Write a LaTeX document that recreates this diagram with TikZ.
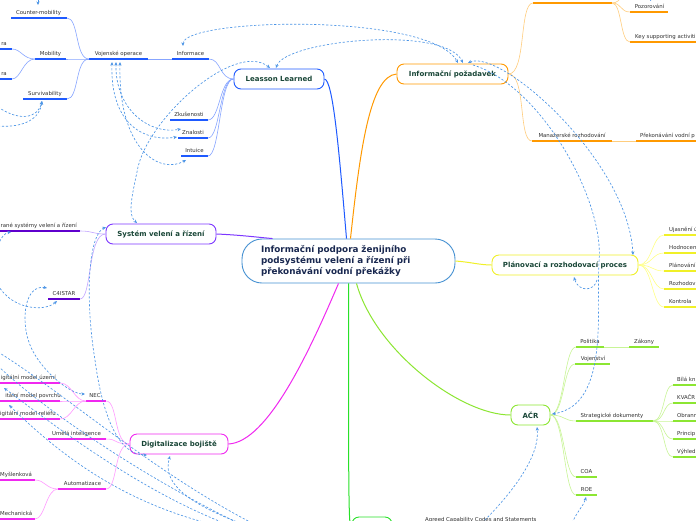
\documentclass[tikz,border=0pt]{standalone}
\usepackage{fontspec}
\setmainfont{DejaVu Sans}
\usetikzlibrary{arrows.meta}
\definecolor{relblue}{RGB}{75,148,230}
\definecolor{cblue}{RGB}{30,90,255}
\definecolor{cbluel}{RGB}{135,165,255}
\definecolor{corange}{RGB}{255,153,0}
\definecolor{corangel}{RGB}{255,205,125}
\definecolor{cpurple}{RGB}{125,55,255}
\definecolor{cpurpled}{RGB}{95,0,205}
\definecolor{cpurplel}{RGB}{195,165,255}
\definecolor{cyellow}{RGB}{240,240,40}
\definecolor{cyellowl}{RGB}{255,255,135}
\definecolor{clime}{RGB}{140,230,50}
\definecolor{climel}{RGB}{200,245,150}
\definecolor{cmag}{RGB}{240,40,240}
\definecolor{cmagl}{RGB}{255,155,255}
\definecolor{cgreen}{RGB}{40,225,40}
\definecolor{ccentral}{RGB}{70,145,210}
\definecolor{topictxt}{RGB}{25,70,55}
\definecolor{centraltxt}{RGB}{25,40,80}
\definecolor{subtxt}{RGB}{50,50,50}
\begin{document}
\begin{tikzpicture}[x=1pt,y=-1pt,
  topic/.style={draw, rounded corners=7pt, line width=0.9pt, fill=white,
    font=\fontsize{7}{8}\selectfont\bfseries, text=topictxt, inner sep=0pt, minimum height=20pt},
  subt/.style={font=\fontsize{5.4}{6}\selectfont, text=subtxt, inner sep=0pt, anchor=base},
  subw/.style={subt, anchor=base west},
  sube/.style={subt, anchor=base east},
  uline/.style={line width=1.2pt},
  conn/.style={line width=0.6pt},
  relline/.style={draw=relblue, dash pattern=on 2.2pt off 1.8pt, line width=0.65pt},
  relar/.style={relline, -{Stealth[length=3.6pt,width=3.2pt]}},
  relboth/.style={relline, {Stealth[length=3.6pt,width=3.2pt]}-{Stealth[length=3.6pt,width=3.2pt]}},
  relst/.style={relline, {Stealth[length=3.6pt,width=3.2pt]}-},
]
\useasboundingbox (0,0) rectangle (696,520);
\path[fill=white] (0,0) rectangle (696,520);

% ---------- main nodes ----------
\node[draw=ccentral, line width=0.9pt, rounded corners=20pt, fill=white,
  minimum width=213pt, minimum height=44pt, inner sep=0pt, text width=175pt, align=left,
  font=\fontsize{8.8}{11.3}\selectfont\bfseries, text=centraltxt] (c) at (348.5,261)
  {Informační podpora ženijního\\podsystému velení a řízení při\\překonávání vodní překážky};
\node[topic, draw=cblue, minimum width=90pt] (ll) at (279,79) {Leasson Learned};
\node[topic, draw=corange, minimum width=111pt] (ip) at (452.5,74) {Informační požadavek};
\node[topic, draw=cpurple, minimum width=110pt] (sv) at (161,234) {Systém velení a řízení};
\node[topic, draw=cyellow, minimum width=146pt] (pr) at (565,265) {Plánovací a rozhodovací proces};
\node[topic, draw=clime, minimum width=39pt] (ac) at (530.5,415) {AČR};
\node[topic, draw=cmag, minimum width=98pt] (dg) at (179,444) {Digitalizace bojiště};
\node[topic, draw=cgreen, minimum width=40pt, minimum height=24pt] (bot) at (372,529) {};

% ---------- central connectors ----------
\draw[cblue, line width=1pt] (ll.east) .. controls (333,80) and (339,150) .. ([xshift=-2pt]c.north);
\draw[corange, line width=1pt] ([xshift=2pt]c.north) .. controls (360,150) and (370,76) .. (ip.west);
\draw[cpurple, line width=1pt] (sv.east) .. controls (240,235) and (255,237) .. ([xshift=-76pt]c.north);
\draw[cyellow, line width=1pt] (c.east) .. controls (470,262) and (480,265) .. (pr.west);
\draw[clime, line width=1pt] ([xshift=8pt]c.south) .. controls (375,350) and (460,415) .. (ac.west);
\draw[cmag, line width=1pt] ([xshift=-10pt]c.south) .. controls (310,350) and (268,442) .. (dg.east);
\draw[cgreen, line width=1pt] (c.south) .. controls (348.5,500) and (348.5,528) .. (bot.west);

% ---------- Leasson Learned branch ----------
\coordinate (infoA) at (172,59); \coordinate (infoB) at (209,59);
\coordinate (vojA) at (89,59);   \coordinate (vojB) at (148,59);
\coordinate (cmA) at (11,18);    \coordinate (cmB) at (67,18);
\coordinate (mobA) at (35,59);   \coordinate (mobB) at (66,59);
\coordinate (survA) at (23,99);  \coordinate (survB) at (67,99);
\coordinate (ra1A) at (-1,49);   \coordinate (ra1B) at (12,49);
\coordinate (ra2A) at (-1,79);   \coordinate (ra2B) at (12,79);
\coordinate (zkA) at (170,120);  \coordinate (zkB) at (208,120);
\coordinate (znA) at (178,138);  \coordinate (znB) at (208,138);
\coordinate (inA) at (181,156);  \coordinate (inB) at (208,156);
\foreach \a/\b in {infoA/infoB,vojA/vojB,cmA/cmB,mobA/mobB,survA/survB,ra1A/ra1B,ra2A/ra2B,zkA/zkB,znA/znB,inA/inB}
  \draw[uline, cblue] (\a) -- (\b);
\node[subt] (info) at (190.5,55.5) {Informace};
\node[subt] (voj) at (118.5,55.5) {Vojenské operace};
\node[subt] (cm) at (38.5,14.5) {Counter-mobility};
\node[subt] (mob) at (50.5,55.5) {Mobility};
\node[subt] (surv) at (45,95.5) {Survivability};
\node[sube] (ra1) at (7,45.5) {ra};
\node[sube] (ra2) at (7,75.5) {ra};
\node[subt] (zk) at (189,116.5) {Zkušenosti};
\node[subt] (zn) at (193,134.5) {Znalosti};
\node[subt] (in) at (194.5,152.5) {Intuice};
\foreach \t in {infoB,zkB,znB,inB}
  \draw[conn, cbluel] (ll.west) .. controls +(-14,0) and +(12,0) .. (\t);
\draw[conn, cbluel] (infoA) -- (vojB);
\foreach \t in {cmB,mobB,survB}
  \draw[conn, cbluel] (vojA) .. controls +(-14,0) and +(12,0) .. (\t);
\foreach \t in {ra1B,ra2B}
  \draw[conn, cbluel] (mobA) .. controls +(-12,0) and +(9,0) .. (\t);

% ---------- Systém velení a řízení branch ----------
\coordinate (raneA) at (-1,231); \coordinate (raneB) at (80,231);
\coordinate (c4A) at (48,299);   \coordinate (c4B) at (80,299);
\draw[uline, cpurpled] (raneA) -- (raneB);
\draw[uline, cpurpled] (c4A) -- (c4B);
\node[sube] (rane) at (77,227.5) {rané systémy velení a řízení};
\node[subt] (c4) at (64,295.5) {C4ISTAR};
\draw[conn, cpurplel] (sv.west) .. controls +(-14,0) and +(14,0) .. (raneB);
\draw[conn, cpurplel] (sv.west) .. controls +(-18,0) and +(12,0) .. (c4B);

% ---------- Digitalizace bojiště branch ----------
\coordinate (necA) at (86,401);  \coordinate (necB) at (106,401);
\coordinate (uiA) at (48,439);   \coordinate (uiB) at (106,439);
\coordinate (autA) at (58,489);  \coordinate (autB) at (106,489);
\coordinate (dmuA) at (-1,383);  \coordinate (dmuB) at (60,383);
\coordinate (dmpA) at (-1,401);  \coordinate (dmpB) at (60,401);
\coordinate (dmrA) at (-1,419);  \coordinate (dmrB) at (60,419);
\coordinate (mysA) at (-1,480);  \coordinate (mysB) at (35,480);
\coordinate (mechA) at (-1,519); \coordinate (mechB) at (35,519);
\foreach \a/\b in {necA/necB,uiA/uiB,autA/autB,dmuA/dmuB,dmpA/dmpB,dmrA/dmrB,mysA/mysB,mechA/mechB}
  \draw[uline, cmag] (\a) -- (\b);
\node[subt] (nec) at (95,397.5) {NEC};
\node[subt] (ui) at (76.5,435.5) {Umělá inteligence};
\node[subt] (aut) at (82.5,485.5) {Automatizace};
\node[sube] (dmu) at (56,379.5) {igitální model území};
\node[sube] (dmp) at (61,397.5) {itální model povrchu};
\node[sube] (dmr) at (56,415.5) {igitální model reliéfu};
\node[subw] (mys) at (0,476.5) {Myšlenková};
\node[subw] (mech) at (0,515.5) {Mechanická};
\foreach \t in {necB,uiB,autB}
  \draw[conn, cmagl] (dg.west) .. controls +(-16,0) and +(12,0) .. (\t);
\foreach \t in {dmuB,dmpB,dmrB}
  \draw[conn, cmagl] (necA) .. controls +(-12,0) and +(12,0) .. (\t);
\foreach \t in {mysB,mechB}
  \draw[conn, cmagl] (autA) .. controls +(-12,0) and +(10,0) .. (\t);

% ---------- Informační požadavek branch ----------
\coordinate (topA) at (533,3);   \coordinate (topB) at (612,3);
\coordinate (pozA) at (630,12);  \coordinate (pozB) at (668,12);
\coordinate (keyA) at (630,42);  \coordinate (keyB) at (697,42);
\coordinate (manA) at (532,141); \coordinate (manB) at (612,141);
\coordinate (prekA) at (636,141);\coordinate (prekB) at (697,141);
\coordinate (topUp) at (632,-10);
\foreach \a/\b in {topA/topB,pozA/pozB,keyA/keyB,manA/manB,prekA/prekB}
  \draw[uline, corange] (\a) -- (\b);
\node[subt] (poz) at (649.5,8.5) {Pozorování};
\node[subw] (key) at (635,38.5) {Key supporting activiti};
\node[subt] (man) at (572,137.5) {Manažerské rozhodování};
\node[subw] (prek) at (640,137.5) {Překonávání vodní p};
\foreach \t in {topA,manA}
  \draw[conn, corangel] (ip.east) .. controls +(18,0) and +(-14,0) .. (\t);
\foreach \t in {pozA,keyA,topUp}
  \draw[conn, corangel] (topB) .. controls +(10,0) and +(-10,0) .. (\t);
\draw[conn, corangel] (manB) -- (prekA);

% ---------- Plánovací a rozhodovací proces branch ----------
\foreach \n/\y/\t in {p1/235/{Ujasnění ú},p2/253/{Hodnocen},p3/271/{Plánování},p4/289/{Rozhodov},p5/307/{Kontrola}}{
  \coordinate (\n A) at (664,\y); \coordinate (\n B) at (697,\y);
  \draw[uline, cyellow] (\n A) -- (\n B);
  \node[subw] (\n) at (669,\y-3.5) {\t};
  \draw[conn, cyellowl] (pr.east) .. controls +(14,0) and +(-12,0) .. (\n A);
}

% ---------- AČR branch ----------
\coordinate (polA) at (576,347);  \coordinate (polB) at (604,347);
\coordinate (zakA) at (629,347);  \coordinate (zakB) at (659,347);
\coordinate (vjA) at (575,364);   \coordinate (vjB) at (610,364);
\coordinate (strA) at (576,421);  \coordinate (strB) at (653,421);
\coordinate (coaA) at (576,477);  \coordinate (coaB) at (597,477);
\coordinate (roeA) at (576,495);  \coordinate (roeB) at (597,495);
\foreach \a/\b in {polA/polB,zakA/zakB,vjA/vjB,strA/strB,coaA/coaB,roeA/roeB}
  \draw[uline, clime] (\a) -- (\b);
\node[subt] (pol) at (590,343.5) {Politika};
\node[subt] (zak) at (644,343.5) {Zákony};
\node[subt] (vj) at (593,360.5) {Vojenství};
\node[subt] (str) at (612,417.5) {Strategické dokumenty};
\node[subt] (coa) at (586.5,473.5) {COA};
\node[subt] (roe) at (586.5,491.5) {ROE};
\foreach \t in {polA,vjA,strA,coaA,roeA}
  \draw[conn, climel] (ac.east) .. controls +(14,0) and +(-12,0) .. (\t);
\draw[conn, climel] (polB) -- (zakA);
\foreach \n/\y/\t in {s1/385/{Bílá kn},s2/403/{KVAČR},s3/421/{Obrann},s4/439/{Princip},s5/457/{Výhled}}{
  \coordinate (\n A) at (673,\y); \coordinate (\n B) at (697,\y);
  \draw[uline, clime] (\n A) -- (\n B);
  \node[subw] (\n) at (677,\y-3.5) {\t};
  \draw[conn, climel] (strB) .. controls +(12,0) and +(-10,0) .. (\n A);
}

% ---------- bottom node ----------
\node[subw] (agr) at (425,521.5) {Agreed Capability Codes and Statements};

% ---------- relationships (dashed) ----------
\coordinate (infoT) at (183,46);  \coordinate (ipT1) at (458,63);
\coordinate (llT2) at (276,68);   \coordinate (ipT2) at (463,63);
\coordinate (ipT3) at (468,63);   \coordinate (prT1) at (633,255);
\coordinate (ipT4) at (473,65);   \coordinate (prM) at (599,262);
\coordinate (acE) at (552,414);   \coordinate (prM2) at (597,280);
\coordinate (prB) at (574,277);
\coordinate (b1) at (482,523);    \coordinate (acB) at (537,427);
\coordinate (b2) at (572,523);    \coordinate (roeP) at (586,497);
\coordinate (vojP1) at (112,62);  \coordinate (znP) at (177,137);
\coordinate (vojP2) at (116,62);  \coordinate (zkP) at (181,129);
\coordinate (vojP3) at (120,62);  \coordinate (inP) at (186,160);
\coordinate (llT1) at (270,68);   \coordinate (svT) at (137,223);
\coordinate (oL1) at (-2,107);    \coordinate (oL2) at (-2,126);
\coordinate (survP) at (42,101);
\coordinate (oL3) at (-2,245);    \coordinate (raneP) at (11,232);
\coordinate (oL4) at (-2,285);    \coordinate (c4P) at (57,301);
\coordinate (c4Q) at (47,288);    \coordinate (necP) at (85,394);
\coordinate (svW) at (106,227);   \coordinate (dgB1) at (147,455);
\coordinate (oB1) at (240,523);   \coordinate (dgB2) at (170,456);
\coordinate (oL5) at (-2,352);    \coordinate (oB2) at (252,523);
\coordinate (oL6) at (-2,366);    \coordinate (oB3) at (238,523);
\coordinate (dmuP) at (4,388);    \coordinate (oB4) at (224,523);
\coordinate (dmrP) at (9,405);    \coordinate (oB5) at (207,523);
\coordinate (oT1) at (38,-4);     \coordinate (cmT) at (38,5);
\coordinate (oT2) at (653,-4);    \coordinate (pozT) at (650,1);

\draw[relboth] (infoT) .. controls (182,18) and (430,12) .. (ipT1);
\draw[relboth] (llT2) .. controls (285,40) and (445,25) .. (ipT2);
\draw[relboth] (ipT3) .. controls (500,48) and (628,160) .. (prT1);
\draw[relar] (ipT4) .. controls (540,85) and (605,200) .. (prM) .. controls (596,310) and (610,405) .. (acE);
\draw[relar] (prM2) .. controls (594,292) and (578,292) .. (prB);
\draw[relar] (b1) .. controls (515,490) and (540,455) .. (acB);
\draw[relar] (b2) .. controls (578,510) and (584,505) .. (roeP);
\draw[relboth] (vojP1) .. controls (110,125) and (145,142) .. (znP);
\draw[relboth] (vojP2) .. controls (115,110) and (150,135) .. (zkP);
\draw[relboth] (vojP3) .. controls (118,150) and (160,175) .. (inP);
\draw[relboth] (llT1) .. controls (235,40) and (145,120) .. (137,172) .. controls (131,200) and (128,215) .. (svT);
\draw[relar] (oL1) .. controls (20,122) and (38,118) .. (survP);
\draw[relar] (oL2) .. controls (25,128) and (40,118) .. (survP);
\draw[relar] (oL3) .. controls (2,236) and (5,233) .. (raneP);
\draw[relar] (oL4) .. controls (12,310) and (45,312) .. (c4P);
\draw[relboth] (c4Q) .. controls (25,284) and (20,320) .. (30,345) .. controls (40,370) and (70,394) .. (necP);
\draw[relboth] (svW) .. controls (88,235) and (85,300) .. (95,360) .. controls (103,420) and (120,455) .. (dgB1);
\draw[relar] (oB1) .. controls (180,500) and (163,480) .. (dgB2);
\draw[relline] (oL5) .. controls (60,390) and (150,470) .. (oB2);
\draw[relline] (oL6) .. controls (50,415) and (150,480) .. (oB3);
\draw[relst] (dmuP) .. controls (60,430) and (140,490) .. (oB4);
\draw[relst] (dmrP) .. controls (60,455) and (120,500) .. (oB5);
\draw[relar] (oT1) -- (cmT);
\draw[relar] (oT2) -- (pozT);
\end{tikzpicture}
\end{document}
